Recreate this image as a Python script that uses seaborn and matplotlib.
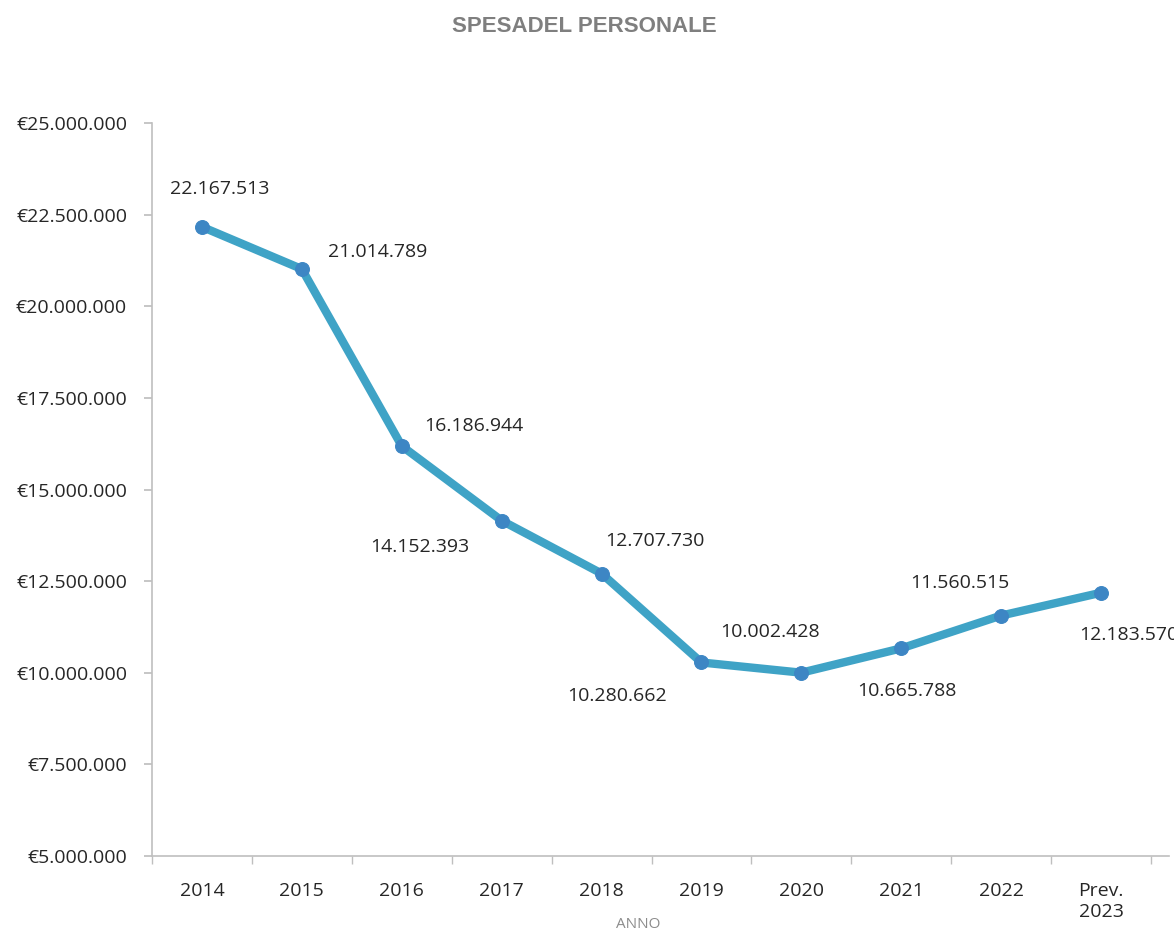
import matplotlib
matplotlib.use("Agg")
import matplotlib.pyplot as plt
import seaborn as sns
import pandas as pd
from matplotlib.ticker import FuncFormatter, FixedLocator

categories = ["2014", "2015", "2016", "2017", "2018", "2019", "2020", "2021", "2022", "Prev.\n2023"]
values = [22167513, 21014789, 16186944, 14152393, 12707730, 10280662, 10002428, 10665788, 11560515, 12183570]
label_offsets_px = [(18, 38), (76, 17), (72, 20), (-82, -26), (53, 33), (-84, -34), (-31, 41), (6, -43), (-41, 33), (28, -42)]

sns.set_theme(style="white")
plt.rcParams["font.family"] = ["Open Sans", "DejaVu Sans"]

df = pd.DataFrame({"anno": categories, "spesa": values})

fig = plt.figure(figsize=(11.74, 9.34), dpi=100)
ax = fig.add_axes([0.1295, 0.0835, 0.8662, 0.7848])

sns.lineplot(data=df, x="anno", y="spesa", sort=False, ax=ax, color="#3fa3c6",
             linewidth=6, marker="o", markersize=10, markerfacecolor="#3d86c4",
             markeredgecolor="#3d86c4", solid_capstyle="round")

def fmt(v):
    return "{:,}".format(int(round(v))).replace(",", ".")

for i, (v, (dx, dy)) in enumerate(zip(values, label_offsets_px)):
    ax.annotate(fmt(v), (i, v), xytext=(dx, dy), textcoords="offset pixels",
                ha="center", va="center", fontsize=14, color="#262626",
                annotation_clip=False)

ax.set_ylim(5_000_000, 25_000_000)
ax.set_yticks(range(5_000_000, 25_000_001, 2_500_000))
ax.yaxis.set_major_formatter(FuncFormatter(lambda v, p: "€" + fmt(v)))
ax.set_xlim(-0.5, len(categories) - 0.32)
ax.set_xticks(range(len(categories)))
ax.set_xticklabels(categories)
ax.xaxis.set_minor_locator(FixedLocator([i - 0.5 for i in range(len(categories) + 1)]))

for s in ["top", "right"]:
    ax.spines[s].set_visible(False)
for s in ["left", "bottom"]:
    ax.spines[s].set_color("#bfbfbf")
    ax.spines[s].set_linewidth(1.2)

ax.tick_params(axis="y", which="major", left=True, length=6, color="#bfbfbf",
               labelsize=14, labelcolor="#262626", pad=12)
ax.tick_params(axis="x", which="major", bottom=False, labelsize=14,
               labelcolor="#262626", pad=13)
ax.tick_params(axis="x", which="minor", bottom=True, length=6, color="#bfbfbf")

ax.set_xlabel("ANNO", fontsize=11, color="#8c8c8c", va="center")
ax.xaxis.set_label_coords(0.478, -0.093)
ax.set_ylabel("")

fig.text(0.498, 0.972, "SPESADEL PERSONALE", ha="center", va="center",
         fontsize=16, fontweight="bold", color="#7f7f7f", family=["Liberation Sans Narrow", "Liberation Sans", "DejaVu Sans"])

fig.savefig("out.png", dpi=100)
